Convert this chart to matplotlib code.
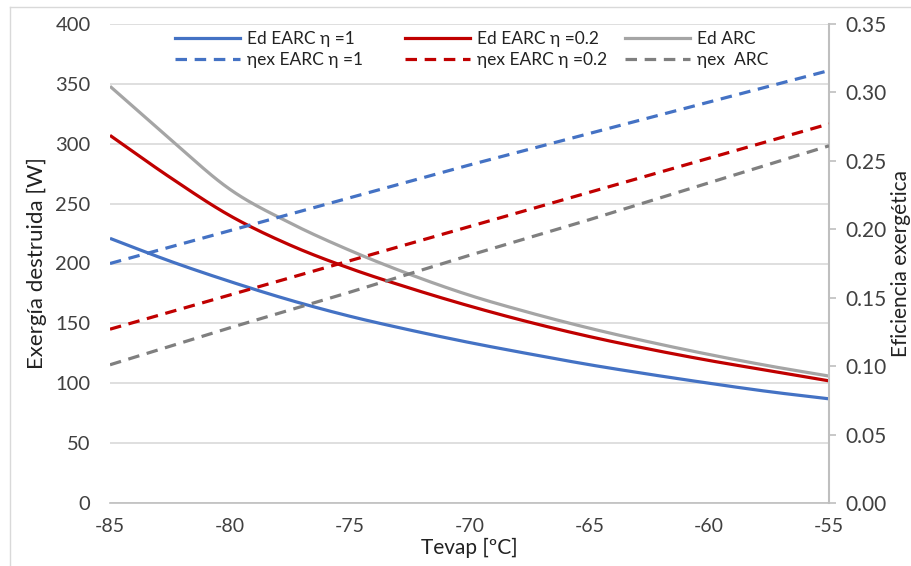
import numpy as np
import matplotlib
matplotlib.use("Agg")
import matplotlib.pyplot as plt
from matplotlib.lines import Line2D
from matplotlib.legend import Legend

plt.rcParams['font.family'] = ['Lato', 'DejaVu Sans']
plt.rcParams['axes.unicode_minus'] = False

# ---- data ----
tevap = [-85, -82.5, -80, -77.5, -75, -72.5, -70, -67.5, -65, -62.5, -60, -57.5, -55]
ed_earc_1 = [221, 202, 185, 169.5, 156, 144.5, 134, 124.5, 115.5, 107.5, 100, 93, 87]
ed_earc_02 = [307, 272, 240, 215.5, 196, 179.5, 164.5, 151, 139, 128.5, 119, 110.5, 102]
ed_arc = [348, 304, 262, 234, 211, 191, 173.5, 159, 146, 134.5, 124, 114.5, 106]

tevap_ex = [-85, -80, -75, -70, -65, -60, -55]
nex_earc_1 = [0.175, 0.199, 0.223, 0.247, 0.270, 0.293, 0.316]
nex_earc_02 = [0.127, 0.152, 0.177, 0.202, 0.227, 0.252, 0.277]
nex_arc = [0.101, 0.128, 0.154, 0.181, 0.207, 0.234, 0.261]

labels_ed = ['Ed EARC η =1', 'Ed EARC η =0.2', 'Ed ARC']
labels_nex = ['ηex EARC η =1', 'ηex EARC η =0.2', 'ηex  ARC']

blue = '#4472C4'
red = '#C00000'
grey = '#A5A5A5'
dgrey = '#7F7F7F'


def smooth(x, y, n=20):
    """Catmull-Rom spline through the data points (Excel-like smoothing)."""
    x = np.asarray(x, float)
    y = np.asarray(y, float)
    px = np.concatenate([[2 * x[0] - x[1]], x, [2 * x[-1] - x[-2]]])
    py = np.concatenate([[2 * y[0] - y[1]], y, [2 * y[-1] - y[-2]]])
    xs, ys = [], []
    t = np.linspace(0, 1, n, endpoint=False)
    for i in range(1, len(px) - 2):
        for p, out in ((px, xs), (py, ys)):
            p0, p1, p2, p3 = p[i - 1], p[i], p[i + 1], p[i + 2]
            out.extend(0.5 * ((2 * p1) + (-p0 + p2) * t +
                              (2 * p0 - 5 * p1 + 4 * p2 - p3) * t ** 2 +
                              (-p0 + 3 * p1 - 3 * p2 + p3) * t ** 3))
    xs.append(x[-1])
    ys.append(y[-1])
    return np.array(xs), np.array(ys)


fig = plt.figure(figsize=(9.12, 5.66), dpi=100)
ax = fig.add_axes([110 / 912, 1 - 503 / 566, (829 - 110) / 912, (503 - 24) / 566])
ax2 = ax.twinx()

lw = 2.3
dash = (3.6, 2.4)

for ys, c in ((ed_earc_1, blue), (ed_earc_02, red), (ed_arc, grey)):
    sx, sy = smooth(tevap, ys)
    ax.plot(sx, sy, color=c, lw=lw, solid_capstyle='butt', zorder=3)

for ys, c in ((nex_earc_1, blue), (nex_earc_02, red), (nex_arc, dgrey)):
    ax2.plot(tevap_ex, ys, color=c, lw=lw, linestyle=(0, dash), dash_capstyle='butt', zorder=3)

ax.set_xlim(-85, -55)
ax.set_ylim(0, 400)
ax2.set_ylim(0, 0.35)
ax.set_xticks(np.arange(-85, -54, 5))
ax.set_yticks(np.arange(0, 401, 50))
ax2.set_yticks(np.arange(0, 0.351, 0.05))
ax2.set_yticklabels([f'{v:.2f}' for v in np.arange(0, 0.351, 0.05)])

ax.grid(axis='y', color='#D9D9D9', lw=1.2, zorder=0)
ax.set_axisbelow(True)
for s in ('top', 'left', 'right'):
    ax.spines[s].set_visible(False)
ax.spines['bottom'].set_color('#BFBFBF')
ax.spines['bottom'].set_linewidth(1.2)
for s in ('top', 'left', 'bottom'):
    ax2.spines[s].set_visible(False)
ax2.spines['right'].set_color('#BFBFBF')
ax2.spines['right'].set_linewidth(1.5)

tick_color = '#404040'
ax.tick_params(axis='x', length=0, pad=11, labelsize=14, colors=tick_color)
ax.tick_params(axis='y', length=0, pad=14, labelsize=14.5, colors=tick_color)
ax2.tick_params(axis='y', length=5, width=1.2, color='#BFBFBF', pad=7,
                labelsize=15, labelcolor=tick_color)

ax.set_xlabel('Tevap [ºC]', fontsize=15, color='#222222', labelpad=2)
ax.set_ylabel('Exergía destruida [W]', fontsize=16, color='#222222', labelpad=6)
ax2.set_ylabel('Eficiencia exergética', fontsize=15, color='#222222', labelpad=3)

# legend: three columns placed like the reference (solid on top, dashed below)
styles = [(blue, blue), (red, red), (grey, dgrey)]
col_x = [0.090, 0.410, 0.716]
for i, ((c1, c2), x0) in enumerate(zip(styles, col_x)):
    h = [Line2D([], [], color=c1, lw=lw),
         Line2D([], [], color=c2, lw=lw, linestyle=(0, dash))]
    leg = Legend(ax2, h, [labels_ed[i], labels_nex[i]], loc='upper left',
                 bbox_to_anchor=(x0, 0.985), frameon=False, fontsize=12.5,
                 handlelength=3.75, handletextpad=0.4, labelspacing=0.3,
                 borderaxespad=0, borderpad=0)
    for t in leg.get_texts():
        t.set_color('#222222')
    ax2.add_artist(leg)

# chart-area border (top and left edges visible in reference)
fig.add_artist(Line2D([10 / 912, 10 / 912], [0, 1 - 7 / 566], color='#D9D9D9', lw=1,
                      transform=fig.transFigure))
fig.add_artist(Line2D([10 / 912, 1], [1 - 7 / 566, 1 - 7 / 566], color='#D9D9D9', lw=1,
                      transform=fig.transFigure))

fig.savefig('out.png', dpi=100)
